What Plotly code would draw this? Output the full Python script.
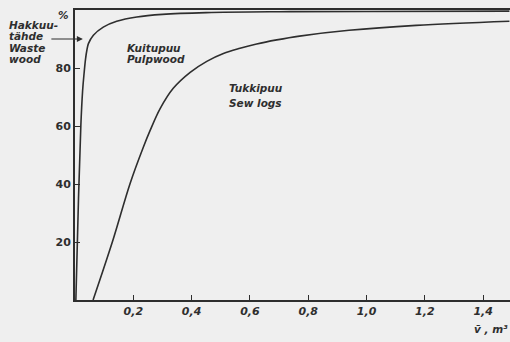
import plotly.graph_objects as go

# Pulpwood (Kuitupuu) cumulative share, %
pulp_v = [0.003, 0.012, 0.020, 0.026, 0.031, 0.036, 0.041, 0.046, 0.063, 0.097, 0.143, 0.212, 0.30, 0.45, 0.70, 1.00, 1.49]
pulp_p = [0, 35, 60, 72, 78, 83, 86.3, 88.4, 91.3, 94.1, 96.1, 97.6, 98.5, 99.1, 99.4, 99.5, 99.6]

# Saw logs (Tukkipuu) cumulative share, %
saw_v = [0.062, 0.13, 0.189, 0.234, 0.257, 0.292, 0.337, 0.395, 0.452, 0.509, 0.566, 0.623, 0.692, 0.77, 0.94, 1.17, 1.49]
saw_p = [0, 20.6, 40.2, 52.6, 58.3, 66.0, 73.0, 78.5, 82.3, 85.0, 86.8, 88.3, 89.7, 91.0, 93.0, 94.7, 96.1]

x_ticks = [0.2, 0.4, 0.6, 0.8, 1.0, 1.2, 1.4]
x_labels = ["0,2", "0,4", "0,6", "0,8", "1,0", "1,2", "1,4"]
y_ticks = [20, 40, 60, 80]
y_labels = ["20", "40", "60", "80"]

ink = "#2e2e2e"
bg = "#efefef"
fnt = "DejaVu Sans"

fig = go.Figure()
fig.add_trace(go.Scatter(x=pulp_v, y=pulp_p, mode="lines",
                         line=dict(color=ink, width=1.6, shape="spline", smoothing=1.0)))
fig.add_trace(go.Scatter(x=saw_v, y=saw_p, mode="lines",
                         line=dict(color=ink, width=1.6, shape="spline", smoothing=1.0)))

fig.update_layout(
    width=510, height=342,
    margin=dict(l=75, r=0, t=10, b=42),
    paper_bgcolor=bg, plot_bgcolor=bg,
    showlegend=False,
    font=dict(family=fnt, color=ink),
)
fig.update_xaxes(range=[0, 1.492], showgrid=False, zeroline=False,
                 showline=True, linecolor=ink, linewidth=2, mirror=True,
                 tickmode="array", tickvals=x_ticks, ticktext=x_labels,
                 ticks="inside", ticklen=5, tickcolor=ink, tickwidth=1.2,
                 tickfont=dict(family=fnt, size=11, color=ink, style="italic", weight="bold"))
fig.update_yaxes(range=[0, 100], showgrid=False, zeroline=False,
                 showline=True, linecolor=ink, linewidth=2,
                 tickmode="array", tickvals=y_ticks, ticktext=y_labels,
                 ticks="inside", ticklen=5, tickcolor=ink, tickwidth=1.2,
                 tickfont=dict(family=fnt, size=11, color=ink, weight="bold"))

lab = dict(family=fnt, size=10.5, color=ink, weight="bold", style="italic")

def txt(x, y, s, xref="x", yref="y", xanchor="left"):
    fig.add_annotation(x=x, y=y, xref=xref, yref=yref, text=s, showarrow=False,
                       xanchor=xanchor, yanchor="middle", font=lab)

# Waste wood label (left of axis)
for i, s in enumerate(["Hakkuu-", "tähde", "Waste", "wood"]):
    txt(-0.156, [95.0, 91.0, 86.9, 83.1][i], s, xref="paper")

fig.add_annotation(x=0.027, y=90, ax=-33, ay=0, text="", showarrow=True,
                   arrowhead=2, arrowsize=1, arrowwidth=1.2, arrowcolor=ink)

txt(0.172, 86.8, "Kuitupuu")
txt(0.172, 83.0, "Pulpwood")
txt(0.52, 73.2, "Tukkipuu")
txt(0.52, 68.1, "Sew logs")

txt(-0.043, 98.3, "%", xref="paper")
fig.add_annotation(x=1.0, y=-0.1, xref="paper", yref="paper", text="v\u0304 , m\u00b3",
                   showarrow=False, xanchor="right", yanchor="middle", font=lab)

fig.write_html("out.html")
